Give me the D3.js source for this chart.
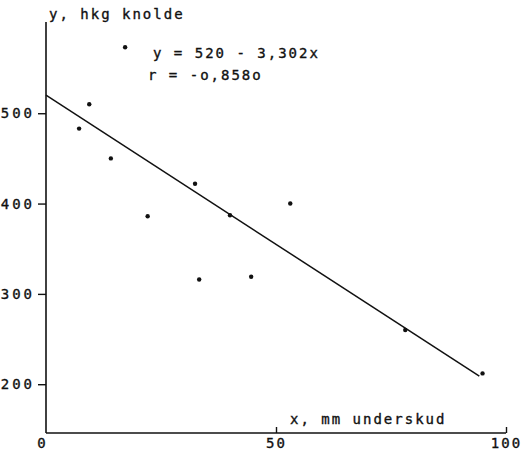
<!DOCTYPE html>
<html>
<head>
<meta charset="utf-8">
<script src="https://cdn.jsdelivr.net/npm/d3@7"></script>
<style>
  body { margin: 0; background: #fff; }
  text { font-family: "DejaVu Sans Mono", monospace; font-size: 14px; fill: #111; letter-spacing: 2px;
         stroke: #111; stroke-width: 0.35px; }
</style>
</head>
<body>
<div id="chart"></div>
<script>
// data
var xs = [17.2, 9.4, 7.2, 14.1, 22.1, 32.4, 40.0, 53.1, 33.3, 44.6, 78.1, 94.9];
var ys = [573, 510, 483, 450, 386, 422, 387, 400, 316, 319, 260, 212];
var xTicks = [0, 50, 100];
var yTicks = [200, 300, 400, 500];
var a0 = 520, b1 = -3.302; // regression y = 520 - 3,302x
var lineX = [0, 94.2];

var W = 521, H = 451;
var svg = d3.select("#chart").append("svg").attr("width", W).attr("height", H);

var x = d3.scaleLinear().domain([0, 100]).range([46, 506]);
var y = d3.scaleLinear().domain([146, 601]).range([433, 22]);

// axes lines
svg.append("line").attr("x1", x(0)).attr("x2", x(0)).attr("y1", y(601)).attr("y2", y(146))
  .attr("stroke", "#111").attr("stroke-width", 1.6);
svg.append("line").attr("x1", x(0)).attr("x2", x(100)).attr("y1", y(146)).attr("y2", y(146))
  .attr("stroke", "#111").attr("stroke-width", 1.6);

var yAxis = d3.axisLeft(y).tickValues(yTicks).tickSize(8).tickPadding(3);
var gy = svg.append("g").attr("transform", "translate(" + x(0) + ",0)").call(yAxis);
gy.select(".domain").remove();
gy.selectAll("line").attr("stroke", "#111").attr("stroke-width", 1.4);
gy.selectAll("text").attr("font-size", 14).attr("font-family", null).style("letter-spacing", "3px");

var xAxis = d3.axisBottom(x).tickValues(xTicks).tickSizeInner(-6).tickSizeOuter(0).tickPadding(5);
var gx = svg.append("g").attr("transform", "translate(0," + y(146) + ")").call(xAxis);
gx.select(".domain").remove();
gx.selectAll(".tick line").attr("stroke", "#111").attr("stroke-width", 1.4)
  .filter(function(d) { return d === 0; }).remove();
gx.selectAll("text").attr("font-size", 14).attr("font-family", null)
  .attr("dx", function(d) { return d === 0 ? -4 : 0; });

// regression line
svg.append("line")
  .attr("x1", x(lineX[0])).attr("y1", y(a0 + b1 * lineX[0]))
  .attr("x2", x(lineX[1])).attr("y2", y(a0 + b1 * lineX[1]))
  .attr("stroke", "#111").attr("stroke-width", 1.5);

// points
svg.selectAll("circle.pt").data(xs).enter().append("circle")
  .attr("class", "pt")
  .attr("cx", function(d) { return x(d); })
  .attr("cy", function(d, i) { return y(ys[i]); })
  .attr("r", 2.2).attr("fill", "#111");

// labels
svg.append("text").attr("x", 49).attr("y", 19).text("y, hkg knolde");
svg.append("text").attr("x", 290).attr("y", 424).text("x, mm underskud");
svg.append("text").attr("x", 153).attr("y", 58).text("y = 520 - 3,302x");
svg.append("text").attr("x", 148).attr("y", 80).text("r = -o,858o");
</script>
</body>
</html>
